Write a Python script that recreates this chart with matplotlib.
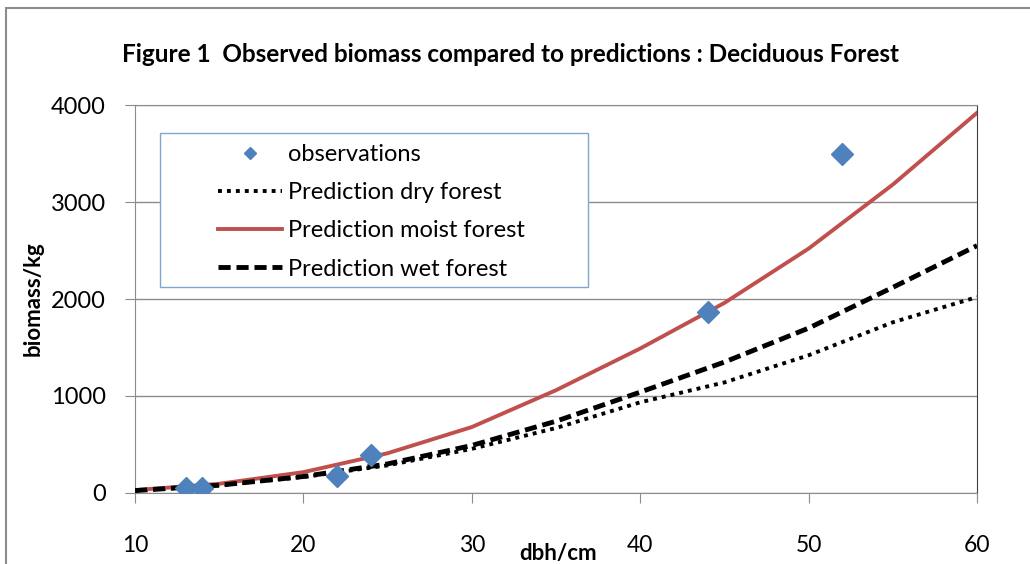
import matplotlib.pyplot as plt
from matplotlib.patches import Rectangle
import numpy as np

plt.rcParams['font.family'] = ['Lato', 'DejaVu Sans']

# diameter at breast height (cm) where the model curves are evaluated
dbh = [10, 15, 20, 25, 30, 35, 40, 45, 50, 55, 60]
pred_dry = [25, 80, 165, 285, 455, 670, 935, 1140, 1420, 1760, 2020]
pred_moist = [30, 95, 215, 410, 680, 1060, 1490, 1960, 2520, 3180, 3920]
pred_wet = [25, 80, 170, 300, 490, 740, 1040, 1350, 1700, 2120, 2550]

# field observations
obs_dbh = [13, 14, 22, 24, 44, 52]
obs_biomass = [50, 50, 175, 390, 1866, 3495]

fig = plt.figure(figsize=(10.3, 5.64), dpi=100)
ax = fig.add_axes([0.1311, 0.1259, 0.8175, 0.6879])

ax.plot(dbh, pred_dry, color='black', lw=2.8, dashes=(1, 1.3),
        label='Prediction dry forest', zorder=3)
ax.plot(dbh, pred_moist, color='#C0504D', lw=2.8,
        label='Prediction moist forest', zorder=3)
ax.plot(dbh, pred_wet, color='black', lw=3.5, dashes=(2.5, 1.2),
        label='Prediction wet forest', zorder=3)
ax.plot(obs_dbh, obs_biomass, ls='none', marker='D', ms=11.5,
        color='#4F81BD', label='observations', zorder=4)

ax.set_xlim(10, 60)
ax.set_ylim(0, 4000)
ax.set_xticks(range(10, 61, 10))
ax.set_yticks(range(0, 4001, 1000))
ax.grid(axis='y', color='#8c8c8c', lw=1)
ax.set_axisbelow(True)

for side in ['left', 'bottom', 'top']:
    ax.spines[side].set_color('#8c8c8c')
ax.spines['right'].set_color('#404040')
ax.tick_params(axis='both', direction='out', length=7.2, color='#8c8c8c')
ax.tick_params(axis='x', pad=23, labelsize=16.5)
ax.tick_params(axis='y', pad=14, labelsize=17)

ax.set_xlabel('dbh/cm', fontsize=16, fontweight='bold', va='center')
ax.xaxis.set_label_coords(0.502, -0.157)
ax.set_ylabel('biomass/kg', fontsize=16, fontweight='bold', va='center')
ax.yaxis.set_label_coords(-0.121, 0.5)

fig.text(122 / 1030, 1 - 55 / 564,
         'Figure 1  Observed biomass compared to predictions : Deciduous Forest',
         fontsize=17.5, fontweight='bold', va='center', ha='left')

# legend order: observations first
h, l = ax.get_legend_handles_labels()
order = [3, 0, 1, 2]
leg = ax.legend([h[i] for i in order], [l[i] for i in order],
                loc='upper left', bbox_to_anchor=(0.0986, 0.900),
                frameon=False, fontsize=17, borderpad=0, borderaxespad=0,
                handlelength=2.7, handletextpad=0.25, labelspacing=0.73,
                markerscale=0.55)
ax.add_patch(Rectangle((0.0297, 0.531), 0.508, 0.397, transform=ax.transAxes,
                       fill=True, facecolor='white', edgecolor='#7fa6d3',
                       lw=1, zorder=2.5))

# outer chart border
fig.add_artist(Rectangle((6 / 1030, -0.05), 1.1, 1 - 8 / 564 + 0.05,
                         transform=fig.transFigure, fill=False,
                         edgecolor='#8c8c8c', lw=1.5))

fig.savefig('out.png', dpi=100)
